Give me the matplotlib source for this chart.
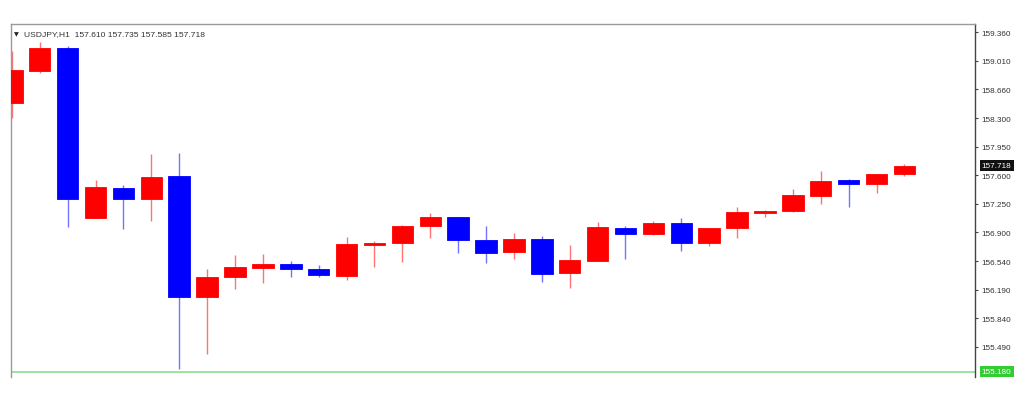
import matplotlib.pyplot as plt
import matplotlib.transforms as mtransforms

# USDJPY H1 candles
opens = [158.493, 158.884, 159.163, 157.078, 157.447, 157.304, 157.587, 156.098,
         156.344, 156.459, 156.511, 156.446, 156.364, 156.745, 156.763, 156.976,
         157.086, 156.807, 156.652, 156.819, 156.397, 156.548, 156.955, 156.877,
         157.012, 156.763, 156.947, 157.139, 157.157, 157.349, 157.545, 157.489,
         157.610]
highs = [159.134, 159.237, 159.195, 157.538, 157.484, 157.866, 157.878, 156.443,
         156.615, 156.631, 156.541, 156.495, 156.844, 156.795, 156.985, 157.132,
         157.090, 156.979, 156.886, 156.849, 156.745, 157.025, 156.972, 157.037,
         157.078, 156.955, 157.213, 157.172, 157.431, 157.653, 157.550, 157.615,
         157.735]
lows = [158.309, 158.855, 156.963, 157.070, 156.942, 157.037, 155.215, 155.400,
        156.196, 156.270, 156.351, 156.348, 156.311, 156.467, 156.536, 156.832,
        156.643, 156.516, 156.569, 156.290, 156.209, 156.540, 156.569, 156.870,
        156.664, 156.733, 156.828, 157.090, 157.150, 157.243, 157.206, 157.382,
        157.585]
closes = [158.896, 159.163, 157.304, 157.459, 157.304, 157.579, 156.102, 156.348,
          156.471, 156.511, 156.443, 156.372, 156.754, 156.763, 156.979, 157.090,
          156.803, 156.643, 156.819, 156.385, 156.553, 156.960, 156.881, 157.012,
          156.763, 156.947, 157.144, 157.164, 157.353, 157.533, 157.489, 157.612,
          157.718]

tick_labels = ['159.360', '159.010', '158.660', '158.300', '157.950', '157.600',
               '157.250', '156.900', '156.540', '156.190', '155.840', '155.490']
last_price = 157.718
level_price = 155.180
header = 'USDJPY,H1  157.610 157.735 157.585 157.718'

plt.rcParams['font.family'] = ['Liberation Sans', 'DejaVu Sans']

fig = plt.figure(figsize=(10.24, 4.02), dpi=100)
ax = fig.add_axes([11 / 1024, 1 - 378 / 402, 964 / 1024, 353 / 402])

up_col = '#ff0000'
dn_col = '#0000ff'
for i in range(len(opens)):
    o, h, l, c = opens[i], highs[i], lows[i], closes[i]
    col = up_col if c >= o else dn_col
    ax.vlines(i, l, h, color=col, lw=1, alpha=0.55, zorder=2)
    body = max(abs(c - o), 0.008)
    ax.bar(i, body, bottom=min(o, c), width=0.77, color=col,
           edgecolor=col, lw=0.6, zorder=3)

ax.axhline(level_price, color='#90dc90', lw=1.2, zorder=1)

ax.set_xlim(-0.03, 34.53)
ax.set_ylim(155.117, 159.462)

ax.yaxis.tick_right()
ax.set_yticks([float(t) for t in tick_labels])
ax.set_yticklabels(tick_labels)
ax.tick_params(axis='y', length=2.5, width=0.8, color='#444444', pad=2,
               labelsize=5.9, labelcolor='#333333')
ax.set_xticks([])

for side in ['left', 'top']:
    ax.spines[side].set_color('#9a9a9a')
    ax.spines[side].set_linewidth(1)
ax.spines['right'].set_color('#444444')
ax.spines['right'].set_linewidth(1)
ax.spines['bottom'].set_visible(False)

trans = mtransforms.blended_transform_factory(ax.transAxes, ax.transData)
ax.text(1.007, last_price, f'{last_price:.3f}', transform=trans, ha='left',
        va='center', fontsize=5.9, color='white',
        bbox=dict(boxstyle='square,pad=0.25', fc='#111111', ec='none'))
ax.text(1.007, level_price, f'{level_price:.3f}', transform=trans, ha='left',
        va='center', fontsize=5.9, color='white',
        bbox=dict(boxstyle='square,pad=0.25', fc='#33cc33', ec='none'))

ax.text(0.003, 0.98, '\u25bc', transform=ax.transAxes, ha='left', va='top',
        fontsize=4.5, color='#222222', family='DejaVu Sans')
ax.text(0.013, 0.982, header, transform=ax.transAxes, ha='left', va='top',
        fontsize=6.1, color='#333333')

fig.savefig('out.png', dpi=100, facecolor='white')
